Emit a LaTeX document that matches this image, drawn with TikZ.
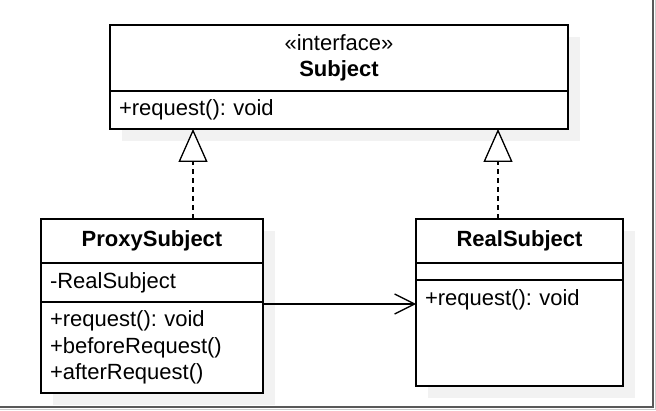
\documentclass[tikz,border=0pt]{standalone}
\usepackage{fontspec}
\setmainfont{Liberation Sans}
\usetikzlibrary{arrows.meta,positioning,shadows}
\frenchspacing

\begin{document}
\begin{tikzpicture}[
      x=1pt, y=-1pt,
      part/.style={draw, fill=white, line width=1.3pt, outer sep=0pt, inner ysep=2pt,
      font=\fontsize{22}{26.5}\selectfont,
      drop shadow={shadow xshift=12pt, shadow yshift=-12pt, fill=black!5, opacity=1}},
      head/.style={part, align=center},
      members/.style={part, align=left, inner xsep=9pt},
      realize/.style={-{Triangle[length=33pt, width=29pt, fill=white]}, line width=1.3pt,
      dash pattern=on 5pt off 4pt},
      assoc/.style={-{Straight Barb[length=20pt, width=20pt]}, line width=1.3pt}
    ]
    \useasboundingbox (0,0) rectangle (656,411);
    \node[head, minimum width=458pt, minimum height=66pt] (stitle) at (339,58) {«interface»\\\textbf{Subject}};
    \node[members, text width=440pt, minimum height=38pt, below=0pt of stitle] (smeth) {+request(): void};
    \node[head, minimum width=222pt, minimum height=44pt] (ptitle) at (152,241) {\textbf{ProxySubject}};
    \node[members, text width=204pt, minimum height=39pt, below=0pt of ptitle] (pattr) {-RealSubject};
    \node[members, text width=204pt, minimum height=91pt, below=0pt of pattr] (pmeth) {+request(): void\\+beforeRequest()\\+afterRequest()};
    \node[head, minimum width=207pt, minimum height=44pt] (rtitle) at (519.5,241) {\textbf{RealSubject}};
    \node[members, text width=189pt, minimum height=17pt, below=0pt of rtitle] (rattr) {};
    \node[members, text width=189pt, text height=24pt, text depth=78pt, below=0pt of rattr] (rmeth) {+request(): void};
    \coordinate (pjoin) at ([xshift=41pt]ptitle.north);
    \coordinate (rjoin) at ([xshift=-21.5pt]rtitle.north);
    \coordinate (link) at ([yshift=-2pt]pattr.south east);
    \draw[realize] (pjoin) -- (pjoin |- smeth.south);
    \draw[realize] (rjoin) -- (rjoin |- smeth.south);
    \draw[assoc] (link) -- (link -| rmeth.west);
    \draw[black!65, line width=2pt] (0,407) -- (653,407) -- (653,0);
    \draw[black!20, line width=1pt] (0,409.5) -- (655.5,409.5) -- (655.5,0);
  \end{tikzpicture}
\end{document}
